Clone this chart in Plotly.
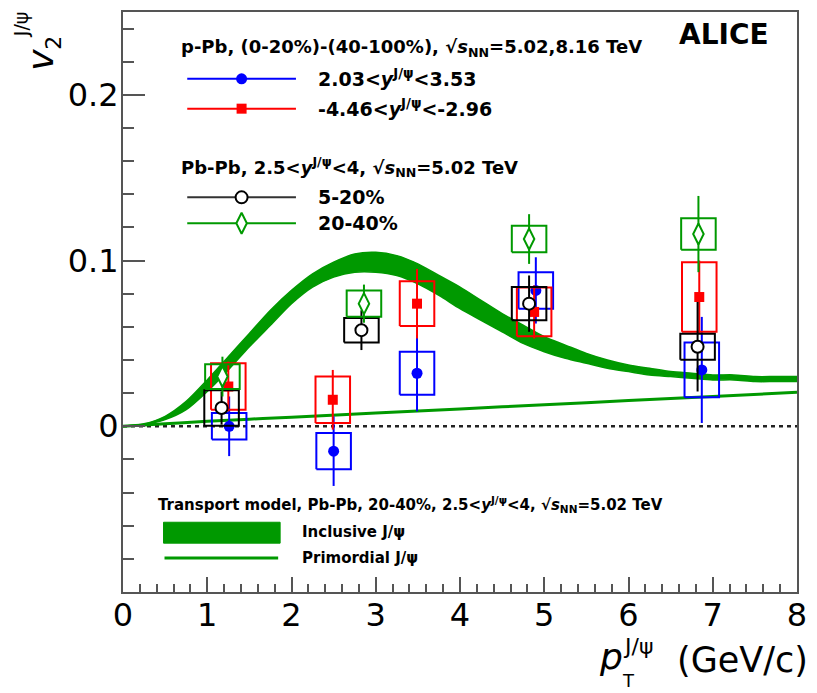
import plotly.graph_objects as go

# ---------------- data ----------------
# p-Pb, forward rapidity 2.03<y<3.53
pt_fwd = [1.26, 2.50, 3.49, 4.90, 6.87]
v2_fwd = [0.000, -0.015, 0.032, 0.082, 0.034]
stat_fwd = [0.018, 0.021, 0.023, 0.020, 0.032]
sys_fwd = [0.008, 0.011, 0.013, 0.011, 0.0165]

# p-Pb, backward rapidity -4.46<y<-2.96
pt_bwd = [1.25, 2.49, 3.49, 4.88, 6.84]
v2_bwd = [0.024, 0.016, 0.074, 0.069, 0.078]
stat_bwd = [0.015, 0.018, 0.021, 0.016, 0.022]
sys_bwd = [0.014, 0.014, 0.0135, 0.0147, 0.021]

# Pb-Pb 5-20%
pt_pbpb_5_20 = [1.17, 2.83, 4.82, 6.82]
v2_pbpb_5_20 = [0.011, 0.058, 0.074, 0.048]
stat_pbpb_5_20 = [0.010, 0.012, 0.017, 0.027]
sys_pbpb_5_20 = [0.0107, 0.0074, 0.010, 0.0078]

# Pb-Pb 20-40%
pt_pbpb_20_40 = [1.18, 2.86, 4.82, 6.83]
v2_pbpb_20_40 = [0.030, 0.074, 0.113, 0.116]
stat_pbpb_20_40 = [0.012, 0.0115, 0.015, 0.023]
sys_pbpb_20_40 = [0.0075, 0.0079, 0.008, 0.0095]

# Transport model, inclusive J/psi band
pt_model = [0.0, 0.25, 0.5, 0.75, 1.0, 1.25, 1.5, 1.75, 2.0, 2.25, 2.5, 2.75,
            3.0, 3.25, 3.5, 3.75, 4.0, 4.25, 4.5, 4.75, 5.0, 5.25, 5.5, 5.75,
            6.0, 6.25, 6.5, 6.75, 7.0, 7.25, 7.5, 7.75, 8.0]
v2_incl_hi = [0.000, 0.0015, 0.006, 0.015, 0.028, 0.042, 0.056, 0.070, 0.082, 0.092,
              0.099, 0.104, 0.105, 0.103, 0.098, 0.091, 0.084, 0.076, 0.068, 0.061,
              0.054, 0.049, 0.044, 0.040, 0.037, 0.035, 0.033, 0.032, 0.031, 0.031,
              0.030, 0.030, 0.030]
v2_incl_lo = [0.000, 0.001, 0.004, 0.010, 0.021, 0.034, 0.048, 0.061, 0.074, 0.084,
              0.090, 0.093, 0.093, 0.091, 0.086, 0.079, 0.071, 0.064, 0.057, 0.050,
              0.045, 0.041, 0.038, 0.035, 0.033, 0.031, 0.030, 0.029, 0.028, 0.028,
              0.027, 0.027, 0.027]

# Transport model, primordial J/psi
pt_prim = [0.0, 0.5, 1.0, 1.5, 2.0, 3.0, 4.0, 5.0, 6.0, 7.0, 8.0]
v2_prim = [0.0, 0.0015, 0.003, 0.0043, 0.0055, 0.008, 0.0105, 0.013, 0.0155, 0.018, 0.0205]

x_tickvals = [0, 1, 2, 3, 4, 5, 6, 7, 8]
x_ticktext = ["0", "1", "2", "3", "4", "5", "6", "7", "8"]
y_tickvals = [0, 0.1, 0.2]
y_ticktext = ["0", "0.1", "0.2"]

# ---------------- style ----------------
BLUE = "#0000ff"
RED = "#ff0000"
BLACK = "#000000"
GREEN = "#009900"
FONT = "DejaVu Sans"
SYS_DX = 0.205

W, H = 817, 693
ML, MR, MT, MB = 123, 12, 10, 101
PW, PH = W - ML - MR, H - MT - MB


def fx(px):
    return (px - ML) / PW


def fy(py):
    return (H - MB - py) / PH


def box_path(xs, ys, dys, dx=SYS_DX):
    bx, by = [], []
    for x, y, d in zip(xs, ys, dys):
        bx += [x - dx, x + dx, x + dx, x - dx, x - dx, None]
        by += [y - d, y - d, y + d, y + d, y - d, None]
    return bx, by


fig = go.Figure()

# zero line
fig.add_shape(type="line", xref="x", yref="y", x0=0, x1=8, y0=0, y1=0,
              line=dict(color="#222", width=2.5, dash="4px,4px"), layer="below")

# model band
fig.add_trace(go.Scatter(x=pt_model, y=v2_incl_hi, mode="lines",
                         line=dict(color=GREEN, width=1.5, shape="spline", smoothing=0.8),
                         showlegend=False, hoverinfo="skip"))
fig.add_trace(go.Scatter(x=pt_model, y=v2_incl_lo, mode="lines", fill="tonexty",
                         fillcolor=GREEN,
                         line=dict(color=GREEN, width=1.5, shape="spline", smoothing=0.8),
                         showlegend=False, hoverinfo="skip"))
# primordial
fig.add_trace(go.Scatter(x=pt_prim, y=v2_prim, mode="lines",
                         line=dict(color=GREEN, width=3, shape="spline"),
                         showlegend=False, hoverinfo="skip"))

series = [
    (pt_fwd, v2_fwd, stat_fwd, sys_fwd, BLUE, dict(symbol="circle", size=11, color=BLUE)),
    (pt_bwd, v2_bwd, stat_bwd, sys_bwd, RED, dict(symbol="square", size=10, color=RED)),
    (pt_pbpb_5_20, v2_pbpb_5_20, stat_pbpb_5_20, sys_pbpb_5_20, BLACK,
     dict(symbol="circle", size=12, color="white", line=dict(color=BLACK, width=2))),
    (pt_pbpb_20_40, v2_pbpb_20_40, stat_pbpb_20_40, sys_pbpb_20_40, GREEN,
     dict(symbol="diamond-tall", size=15, color="white", line=dict(color=GREEN, width=2))),
]

for xs, ys, st, sy, col, mk in series:
    bx, by = box_path(xs, ys, sy)
    fig.add_trace(go.Scatter(x=bx, y=by, mode="lines", line=dict(color=col, width=2),
                             showlegend=False, hoverinfo="skip"))
    fig.add_trace(go.Scatter(x=xs, y=ys, mode="markers", marker=mk,
                             error_y=dict(type="data", array=st, color=col, thickness=2, width=0),
                             showlegend=False))

# ---------------- legend samples (overlay axes in plot-fraction units) ----------------
leg_items = [
    (77, BLUE, dict(symbol="circle", size=11, color=BLUE)),
    (107, RED, dict(symbol="square", size=10, color=RED)),
    (196, "#333333", dict(symbol="circle", size=12, color="white", line=dict(color=BLACK, width=2))),
    (222, GREEN, dict(symbol="diamond-tall", size=15, color="white", line=dict(color=GREEN, width=2))),
]
for py, col, mk in leg_items:
    fig.add_trace(go.Scatter(x=[fx(188), fx(298)], y=[fy(py), fy(py)], mode="lines",
                             line=dict(color=col, width=2), xaxis="x2", yaxis="y2",
                             showlegend=False, hoverinfo="skip"))
    fig.add_trace(go.Scatter(x=[fx(243)], y=[fy(py)], mode="markers", marker=mk,
                             xaxis="x2", yaxis="y2", showlegend=False, hoverinfo="skip"))
# primordial sample line
fig.add_trace(go.Scatter(x=[fx(165), fx(280)], y=[fy(558), fy(558)], mode="lines",
                         line=dict(color=GREEN, width=3), xaxis="x2", yaxis="y2",
                         showlegend=False, hoverinfo="skip"))
# inclusive band sample
fig.add_shape(type="rect", xref="paper", yref="paper", x0=fx(164), x1=fx(282),
              y0=fy(543), y1=fy(522), fillcolor=GREEN, line=dict(color=GREEN, width=1))

annotations = []


def ann(text, px, py, size, xanchor="left", bold=True, color="black", angle=0, yanchor="middle"):
    t = text
    if bold:
        t = "<b>" + t + "</b>"
    annotations.append(dict(text=t, x=fx(px), y=fy(py), xref="paper", yref="paper",
                            xanchor=xanchor, yanchor=yanchor, showarrow=False,
                            textangle=angle, borderpad=0,
                            font=dict(family=FONT, size=size, color=color)))


sq = "√<i>s</i><sub>NN</sub>"
yj = "<i>y</i><sup>J/ψ</sup>"
ann("p-Pb, (0-20%)-(40-100%), " + sq + "=5.02,8.16 TeV", 181, 46, 18)
ann("2.03&lt;" + yj + "&lt;3.53", 319, 76, 19)
ann("-4.46&lt;" + yj + "&lt;-2.96", 319, 106, 19)
ann("Pb-Pb, 2.5&lt;" + yj + "&lt;4, " + sq + "=5.02 TeV", 181, 166, 18)
ann("5-20%", 319, 196, 19)
ann("20-40%", 319, 222, 19)
ann("Transport model, Pb-Pb, 20-40%, 2.5&lt;" + yj + "&lt;4, " + sq + "=5.02 TeV", 157, 504, 15)
ann("Inclusive J/ψ", 303, 532, 15)
ann("Primordial J/ψ", 303, 558, 15)
ann("ALICE", 731, 33, 28, xanchor="center")

# axis titles (ROOT-like stacked sub/superscripts)
ann("<i>p</i>", 617, 657, 36, xanchor="center", bold=False)
ann("J/ψ", 644, 647, 22, xanchor="center", bold=False)
ann("T", 634, 692, 18, xanchor="center", bold=False, yanchor="bottom")
ann("(GeV/c)", 817, 660, 35, xanchor="right", bold=False)
ann("<i>v</i>", 40, 58, 36, xanchor="center", bold=False, angle=-90)
ann("2", 53, 41, 22, xanchor="center", bold=False, angle=-90)
ann("J/ψ", 20, 22, 19, xanchor="center", bold=False, angle=-90)

axcol = "#555555"
fig.update_layout(
    width=W, height=H,
    margin=dict(l=ML, r=MR, t=MT, b=MB, pad=0),
    paper_bgcolor="white", plot_bgcolor="white",
    showlegend=False,
    font=dict(family=FONT, color="black"),
    xaxis=dict(range=[0, 8], tickvals=x_tickvals, ticktext=x_ticktext, ticks="inside",
               ticklen=15, tickwidth=1.5, tickcolor=axcol, showline=True, linecolor=axcol,
               linewidth=2, mirror=True, showgrid=False, zeroline=False,
               ticklabelstandoff=-6,
               tickfont=dict(family=FONT, size=32, color="black"),
               minor=dict(dtick=0.2, tick0=0, ticks="inside", ticklen=8, tickwidth=1.5,
                          tickcolor=axcol, showgrid=False)),
    yaxis=dict(range=[-0.1, 0.25], tickvals=y_tickvals, ticktext=y_ticktext, ticks="inside",
               ticklen=22, tickwidth=1.5, tickcolor=axcol, showline=True, linecolor=axcol,
               linewidth=2, mirror=True, showgrid=False, zeroline=False,
               ticklabelstandoff=-4,
               tickfont=dict(family=FONT, size=32, color="black"),
               minor=dict(dtick=0.02, tick0=0, ticks="inside", ticklen=11, tickwidth=1.5,
                          tickcolor=axcol, showgrid=False)),
    xaxis2=dict(range=[0, 1], overlaying="x", anchor="y2", visible=False, fixedrange=True),
    yaxis2=dict(range=[0, 1], overlaying="y", anchor="x2", visible=False, fixedrange=True),
    annotations=annotations,
)

fig.write_html("out.html", config={"displayModeBar": False},
               post_script="document.body.style.margin='0';document.body.style.padding='0';")
